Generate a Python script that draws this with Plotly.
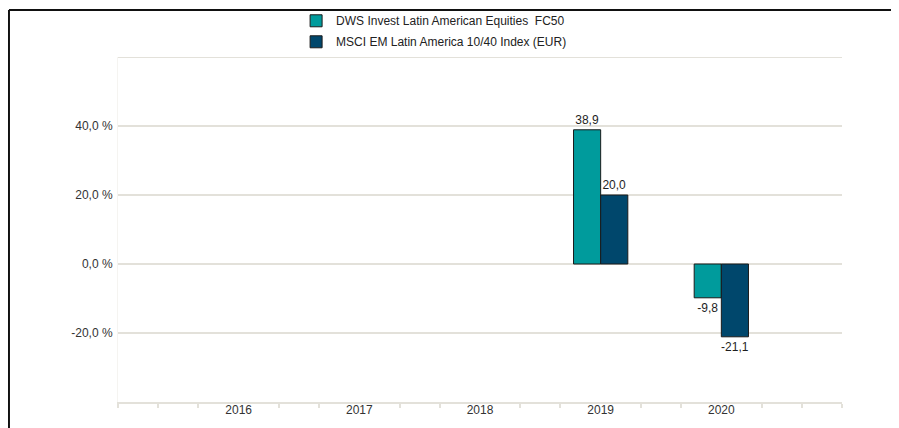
import plotly.graph_objects as go

years = [2016, 2017, 2018, 2019, 2020]
year_labels = ["2016", "2017", "2018", "2019", "2020"]
fund_name = "DWS Invest Latin American Equities  FC50"
index_name = "MSCI EM Latin America 10/40 Index (EUR)"
fund_values = [None, None, None, 38.9, -9.8]
index_values = [None, None, None, 20.0, -21.1]
y_tick_values = [-20, 0, 20, 40]


def fmt(v):
    return "" if v is None else f"{v:.1f}".replace(".", ",")


FONT = "Arial, Liberation Sans, sans-serif"
GRID = "#e3e1da"

fig = go.Figure()
fig.add_trace(go.Bar(
    x=years, y=fund_values, name=fund_name, legendgroup="a",
    marker=dict(color="#009b9c", line=dict(color="#1b1b1b", width=1)),
    text=[fmt(v) for v in fund_values], textposition="outside",
    textfont=dict(family=FONT, size=12, color="#1e1e1e"),
    cliponaxis=False, constraintext="none",
))
fig.add_trace(go.Bar(
    x=years, y=index_values, name=index_name, legendgroup="b",
    marker=dict(color="#00476c", line=dict(color="#1b1b1b", width=1)),
    text=[fmt(v) for v in index_values], textposition="outside",
    textfont=dict(family=FONT, size=12, color="#1e1e1e"),
    cliponaxis=False, constraintext="none",
))

x0, x1 = years[0] - 1, years[-1] + 1
minor_vals = []
n = (x1 - x0) * 3
for k in range(n + 1):
    if k % 3 != 0 or k == 0 or k == n:
        minor_vals.append(x0 + k / 3)

grid_vals = [-40, -20, 0, 20, 40, 60]
y_lo, y_hi = grid_vals[0], grid_vals[-1]
fig.update_layout(
    width=891, height=420,
    margin=dict(l=110, r=57, t=49, b=26, autoexpand=False),
    paper_bgcolor="white", plot_bgcolor="white",
    separators=",.",
    barmode="group", bargap=0.55, bargroupgap=0,
    font=dict(family=FONT, size=12, color="#333333"),
    showlegend=True,
    legend=dict(
        x=0.246, y=1.147, xanchor="left", yanchor="top",
        orientation="v", font=dict(family=FONT, size=12, color="#222222"),
        bgcolor="rgba(0,0,0,0)", itemwidth=30, traceorder="grouped",
        tracegroupgap=2,
    ),
    xaxis=dict(
        range=[x0, x1], tickmode="array", tickvals=years, ticktext=year_labels,
        ticks="", showgrid=False, zeroline=False,
        showline=True, linecolor=GRID, linewidth=2,
        ticklabelstandoff=-4,
        tickfont=dict(family=FONT, size=12, color="#333333"),
        minor=dict(tickmode="array", tickvals=minor_vals, ticks="outside",
                   ticklen=4, tickcolor=GRID, tickwidth=1.5, showgrid=False),
        fixedrange=True,
    ),
    yaxis=dict(
        range=[y_lo, y_hi], tickmode="array", tickvals=grid_vals,
        ticktext=["" if g not in y_tick_values else f"{g:.1f}".replace(".", ",") + " %" for g in grid_vals],
        showgrid=True, gridcolor=GRID, gridwidth=1.5,
        zeroline=True, zerolinecolor=GRID, zerolinewidth=1.5,
        showline=True, linecolor="#f5f4f1", linewidth=1,
        ticks="", ticklabelstandoff=2,
        tickfont=dict(family=FONT, size=12, color="#333333"),
        fixedrange=True,
    ),
    shapes=[
        dict(type="line", xref="paper", yref="y", x0=0, x1=1,
             y0=y_hi, y1=y_hi, line=dict(color=GRID, width=2), layer="below"),
        dict(type="line", xref="paper", yref="paper", x0=-0.1506, x1=1.09,
             y0=1.136, y1=1.136, line=dict(color="#111111", width=2)),
        dict(type="line", xref="paper", yref="paper", x0=-0.1506, x1=-0.1506,
             y0=1.136, y1=-0.09, line=dict(color="#111111", width=2)),
    ],
)

fig.write_html("out.html")
